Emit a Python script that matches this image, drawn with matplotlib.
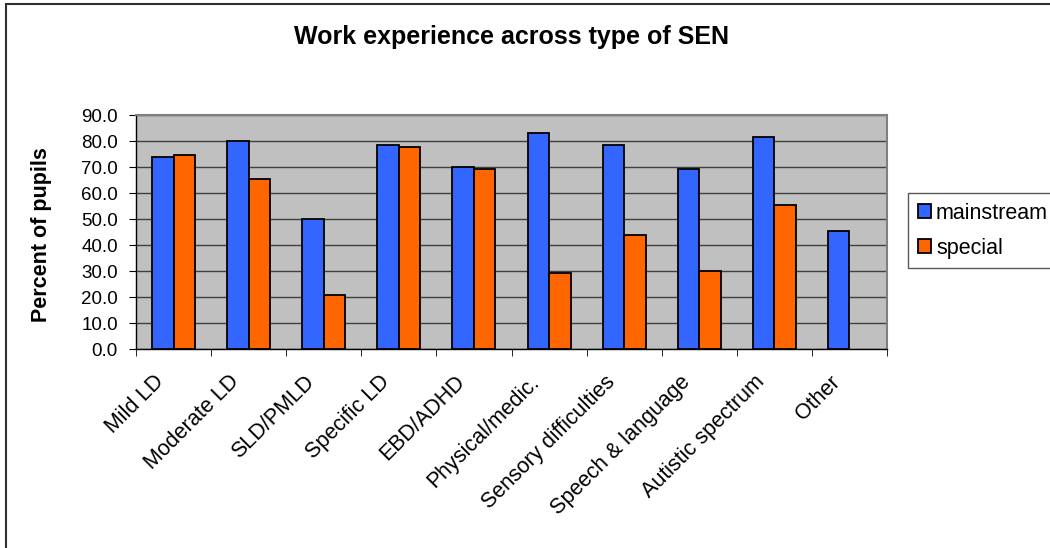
import matplotlib
matplotlib.use("Agg")
import matplotlib.pyplot as plt
import matplotlib.transforms as mtransforms
import numpy as np
from matplotlib.patches import Rectangle

categories = ["Mild LD", "Moderate LD", "SLD/PMLD", "Specific LD", "EBD/ADHD",
              "Physical/medic.", "Sensory difficulties", "Speech & language",
              "Autistic spectrum", "Other"]
mainstream = [73.9, 79.9, 50.1, 78.5, 70.0, 83.1, 78.6, 69.3, 81.6, 45.5]
special = [74.6, 65.4, 20.9, 77.7, 69.3, 29.2, 43.9, 30.1, 55.4, np.nan]
yticks = [0, 10, 20, 30, 40, 50, 60, 70, 80, 90]

plt.rcParams['font.family'] = ['Liberation Sans', 'DejaVu Sans']

W, H = 1050, 548
fig = plt.figure(figsize=(W / 100, H / 100), dpi=100)
fig.patches.append(Rectangle((6 / W, -0.1), 1.2, 1 - 4 / H + 0.1, transform=fig.transFigure,
                             fill=False, edgecolor='#303030', linewidth=1.5))
ax = fig.add_axes([136 / W, 1 - 349 / H, 751 / W, 234 / H])
ax.set_facecolor('#C0C0C0')

x = np.arange(len(categories))
w = 0.286
ax.bar(x - w/2, mainstream, w, color='#3366FF', edgecolor='black', linewidth=1.3,
       label='mainstream', zorder=3)
ax.bar(x + w/2, special, w, color='#FF6600', edgecolor='black', linewidth=1.3,
       label='special', zorder=3)

ax.set_xlim(-0.5, len(categories) - 0.5)
ax.set_ylim(0, 90)
ax.set_yticks(yticks)
ax.set_yticklabels([f"{v:.1f}" for v in yticks], fontsize=13.5)
ax.yaxis.grid(True, color='#404040', linewidth=1, zorder=1)
ax.set_axisbelow(True)

ax.set_xticks(x)
ax.set_xticklabels(categories, rotation=45, ha='right', rotation_mode='anchor', fontsize=15.5)
ax.tick_params(axis='x', length=0, pad=6)
ax.set_xticks(np.arange(-0.5, len(categories) + 0.5, 1), minor=True)
ax.tick_params(axis='x', which='minor', length=5, direction='out', color='black')
ax.tick_params(axis='y', length=5, direction='out', color='black', pad=8)

for lab in ax.get_xticklabels():
    off = mtransforms.ScaledTranslation(-20 / 100, -14 / 100, fig.dpi_scale_trans)
    lab.set_transform(lab.get_transform() + off)

for s in ['top', 'right']:
    ax.spines[s].set_color('#808080')
    ax.spines[s].set_linewidth(1.5)
for s in ['left', 'bottom']:
    ax.spines[s].set_color('black')
    ax.spines[s].set_linewidth(1)

ax.set_ylabel('Percent of pupils', fontsize=15.5, fontweight='bold')
ax.yaxis.set_label_coords(52 / W, 1 - 235 / H, transform=fig.transFigure)
fig.text(512 / W, 1 - 37 / H, 'Work experience across type of SEN', ha='center', va='center',
         fontsize=18, fontweight='bold')

leg = ax.legend(loc='upper left', bbox_to_anchor=(908 / W, 1 - 193 / H), bbox_transform=fig.transFigure,
                fontsize=15.5, frameon=True, fancybox=False, edgecolor='#303030',
                handlelength=0.6, handleheight=0.6, handletextpad=0.25, labelspacing=0.65,
                borderpad=0.45, borderaxespad=0)
leg.get_frame().set_linewidth(1)

fig.savefig('out.png', dpi=100)
